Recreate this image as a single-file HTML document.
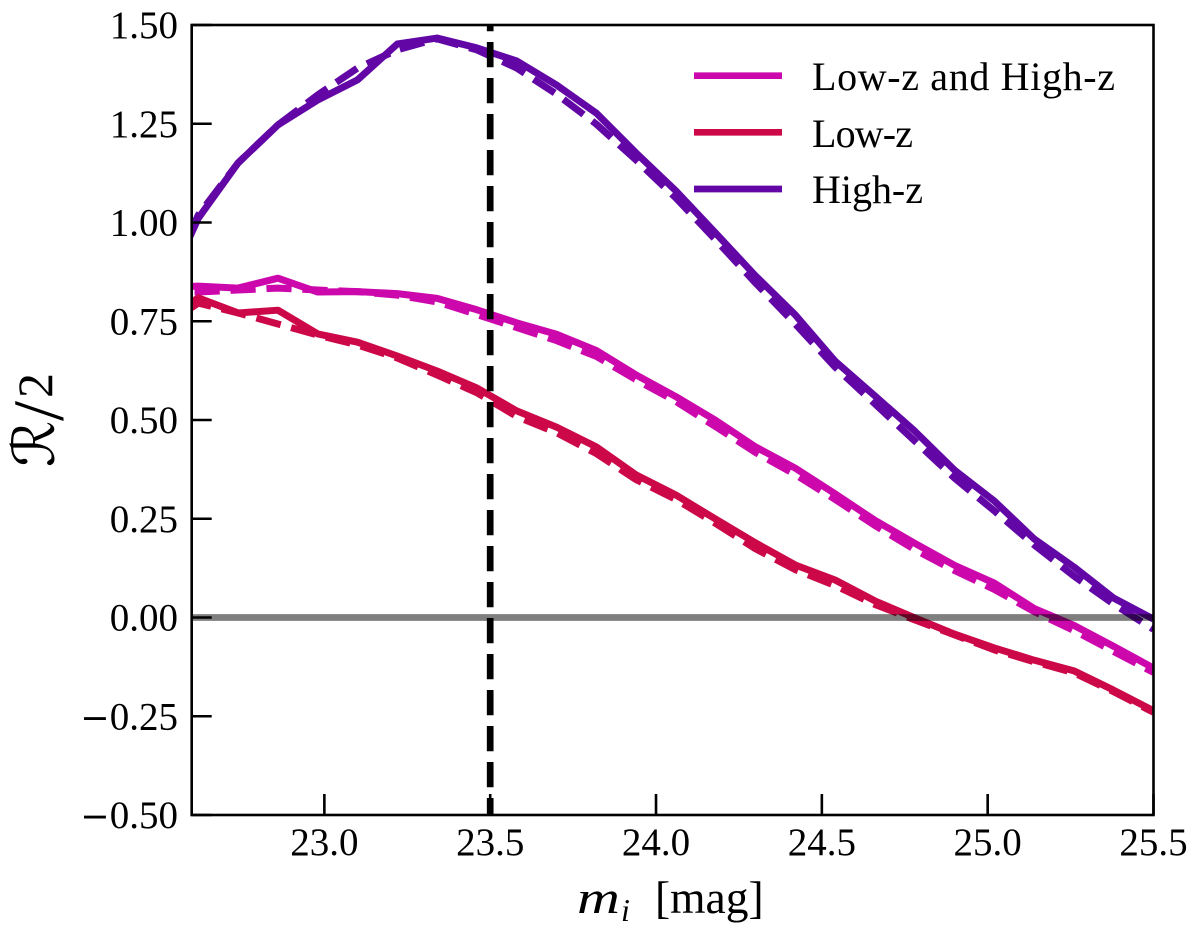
<!DOCTYPE html>
<html lang="en">
<head>
<meta charset="utf-8">
<title>R/2 versus magnitude</title>
<style>
html,body{margin:0;padding:0;background:#fff;}
svg{display:block;}
text{font-family:"Liberation Serif",serif;fill:#000;}
</style>
</head>
<body>
<svg id="chart" width="1200" height="939" viewBox="0 0 1200 939" xmlns="http://www.w3.org/2000/svg">
  <defs><clipPath id="plot-clip"><rect x="191.7" y="25" width="961.8" height="790"></rect></clipPath></defs>
  <rect x="0" y="0" width="1200" height="939" fill="#fff"></rect>
  <g id="series-layer" clip-path="url(#plot-clip)"></g>
  <g id="axis-layer"></g>
  <g>
    <line x1="694" x2="782" y1="75.7" y2="75.7" stroke="#cc08ac" stroke-width="6.7"></line>
    <text x="812" y="90" font-size="40" textLength="303">Low-z and High-z</text>
    <line x1="694" x2="782" y1="132.3" y2="132.3" stroke="#cc0848" stroke-width="6.7"></line>
    <text x="812" y="147" font-size="40" textLength="101">Low-z</text>
    <line x1="694" x2="782" y1="189" y2="189" stroke="#6207a6" stroke-width="6.7"></line>
    <text x="812" y="203" font-size="40" textLength="111">High-z</text>
  </g>
  <g>
    <text transform="translate(577,913) scale(1.32,1)" font-size="45" font-style="italic">m</text>
    <text x="621" y="921" font-size="32" font-style="italic">i</text>
    <text x="655" y="913" font-size="45.5">[mag]</text>
  </g>
  <g>
    <text transform="translate(54,467) rotate(-90)" font-style="italic" font-size="58" style="font-family:'DejaVu Serif','DejaVu Sans',serif">ℛ</text>
    <text transform="translate(63,421) rotate(-90)" font-size="72">/</text>
    <text transform="translate(52,398) rotate(-90)" font-size="50">2</text>
  </g>
</svg>
<script>
var magnitudes = [22.5,22.62,22.74,22.86,22.98,23.10,23.22,23.34,23.46,23.58,23.70,23.82,23.94,24.06,24.18,24.30,24.42,24.54,24.66,24.78,24.90,25.02,25.14,25.26,25.38,25.50];
var bothSolid = [0.834,0.839,0.834,0.859,0.824,0.825,0.820,0.808,0.779,0.746,0.717,0.676,0.614,0.559,0.499,0.432,0.378,0.313,0.246,0.188,0.132,0.087,0.023,-0.020,-0.073,-0.128];
var bothDashed = [0.824,0.824,0.829,0.834,0.829,0.825,0.816,0.799,0.767,0.734,0.701,0.661,0.602,0.547,0.483,0.418,0.362,0.299,0.233,0.172,0.119,0.071,0.015,-0.033,-0.086,-0.139];
var lowSolid = [0.748,0.809,0.771,0.778,0.718,0.697,0.662,0.624,0.581,0.523,0.482,0.432,0.361,0.310,0.249,0.189,0.133,0.095,0.042,-0.001,-0.042,-0.077,-0.108,-0.135,-0.184,-0.236];
var lowDashed = [0.728,0.796,0.771,0.743,0.715,0.690,0.657,0.614,0.569,0.509,0.468,0.415,0.349,0.299,0.238,0.174,0.121,0.081,0.033,-0.006,-0.044,-0.082,-0.112,-0.140,-0.188,-0.240];
var highSolid = [0.789,1.011,1.151,1.247,1.310,1.361,1.452,1.467,1.442,1.409,1.348,1.277,1.176,1.080,0.973,0.865,0.766,0.649,0.561,0.472,0.373,0.295,0.199,0.128,0.049,-0.004];
var highDashed = [0.800,1.019,1.151,1.247,1.323,1.391,1.437,1.465,1.437,1.391,1.325,1.249,1.158,1.062,0.956,0.847,0.743,0.634,0.541,0.447,0.353,0.270,0.184,0.105,0.034,-0.030];
var xTickValues = [23.0,23.5,24.0,24.5,25.0,25.5];
var xTickLabels = ["23.0","23.5","24.0","24.5","25.0","25.5"];
var yTickValues = [-0.5,-0.25,0,0.25,0.5,0.75,1.0,1.25,1.5];
var yTickLabels = ["0.50","0.25","0.00","0.25","0.50","0.75","1.00","1.25","1.50"];
var referenceZero = 0;
var referenceMagnitude = 23.5;

var X0 = 22.6, X1 = 25.5, Y0 = -0.5, Y1 = 1.5;
var LEFT = 191.7, RIGHT = 1153.5, TOP = 25, BOTTOM = 815;
function xScale(v){ return LEFT + (v - X0) / (X1 - X0) * (RIGHT - LEFT); }
function yScale(v){ return BOTTOM - (v - Y0) / (Y1 - Y0) * (BOTTOM - TOP); }

var NS = "http://www.w3.org/2000/svg";
var seriesLayer = document.getElementById("series-layer");
var axisLayer = document.getElementById("axis-layer");

function makeLine(parent, x1, y1, x2, y2, stroke, width){
  var el = document.createElementNS(NS, "line");
  el.setAttribute("x1", x1);
  el.setAttribute("y1", y1);
  el.setAttribute("x2", x2);
  el.setAttribute("y2", y2);
  el.setAttribute("stroke", stroke);
  el.setAttribute("stroke-width", width);
  parent.appendChild(el);
  return el;
}
function makeSeries(xs, ys, color, dashed){
  var el = document.createElementNS(NS, "polyline");
  var pts = [];
  for (var i = 0; i < xs.length; i++) { pts.push(xScale(xs[i]).toFixed(2) + "," + yScale(ys[i]).toFixed(2)); }
  el.setAttribute("points", pts.join(" "));
  el.setAttribute("fill", "none");
  el.setAttribute("stroke", color);
  el.setAttribute("stroke-width", "7");
  el.setAttribute("stroke-linejoin", "round");
  if (dashed) { el.setAttribute("stroke-dasharray", "25.2 10.8"); }
  seriesLayer.appendChild(el);
  return el;
}

var s1 = makeSeries(magnitudes, bothDashed, "#cc08ac", true);


var s2 = makeSeries(magnitudes, bothSolid, "#cc08ac", false);


var s3 = makeSeries(magnitudes, lowDashed, "#cc0848", true);


var s4 = makeSeries(magnitudes, lowSolid, "#cc0848", false);


var s5 = makeSeries(magnitudes, highDashed, "#6207a6", true);


var s6 = makeSeries(magnitudes, highSolid, "#6207a6", false);



var zeroLine = makeLine(seriesLayer, LEFT, yScale(referenceZero), RIGHT, yScale(referenceZero), "#000", 6.7);
zeroLine.setAttribute("stroke-opacity", "0.5");



var limitLine = makeLine(seriesLayer, xScale(referenceMagnitude), TOP, xScale(referenceMagnitude), BOTTOM, "#000", 6.7);
limitLine.setAttribute("stroke-dasharray", "25.2 10.8");
limitLine.setAttribute("stroke-dashoffset", "19");



xTickValues.forEach(function(v, i){
  var tick = makeLine(axisLayer, xScale(v), BOTTOM, xScale(v), BOTTOM - 21, "#000", 2.6);
  
  
  var label = document.createElementNS(NS, "text");
  label.setAttribute("x", xScale(v));
  label.setAttribute("y", 855);
  label.setAttribute("font-size", "39");
  label.setAttribute("text-anchor", "middle");
  label.textContent = xTickLabels[i];
  
  
  axisLayer.appendChild(label);
});

yTickValues.forEach(function(v, i){
  var tick = makeLine(axisLayer, LEFT, yScale(v), LEFT + 20, yScale(v), "#000", 2.6);
  
  
  var label = document.createElementNS(NS, "text");
  label.setAttribute("x", 178);
  label.setAttribute("y", yScale(v) + 13);
  label.setAttribute("font-size", "39");
  label.setAttribute("text-anchor", "end");
  if (v < 0) {
    var minus = document.createElementNS(NS, "tspan");
    minus.setAttribute("style", "font-family:'DejaVu Sans',sans-serif");
    minus.setAttribute("font-size", "35");
    minus.textContent = "\u2212";
    label.appendChild(minus);
  }
  var digits = document.createElementNS(NS, "tspan");
  digits.textContent = yTickLabels[i];
  label.appendChild(digits);
  
  
  axisLayer.appendChild(label);
});

var frame = document.createElementNS(NS, "rect");
frame.setAttribute("x", LEFT);
frame.setAttribute("y", TOP);
frame.setAttribute("width", RIGHT - LEFT);
frame.setAttribute("height", BOTTOM - TOP);
frame.setAttribute("fill", "none");
frame.setAttribute("stroke", "#000");
frame.setAttribute("stroke-width", "2.6");


axisLayer.appendChild(frame);
</script>
</body>
</html>
